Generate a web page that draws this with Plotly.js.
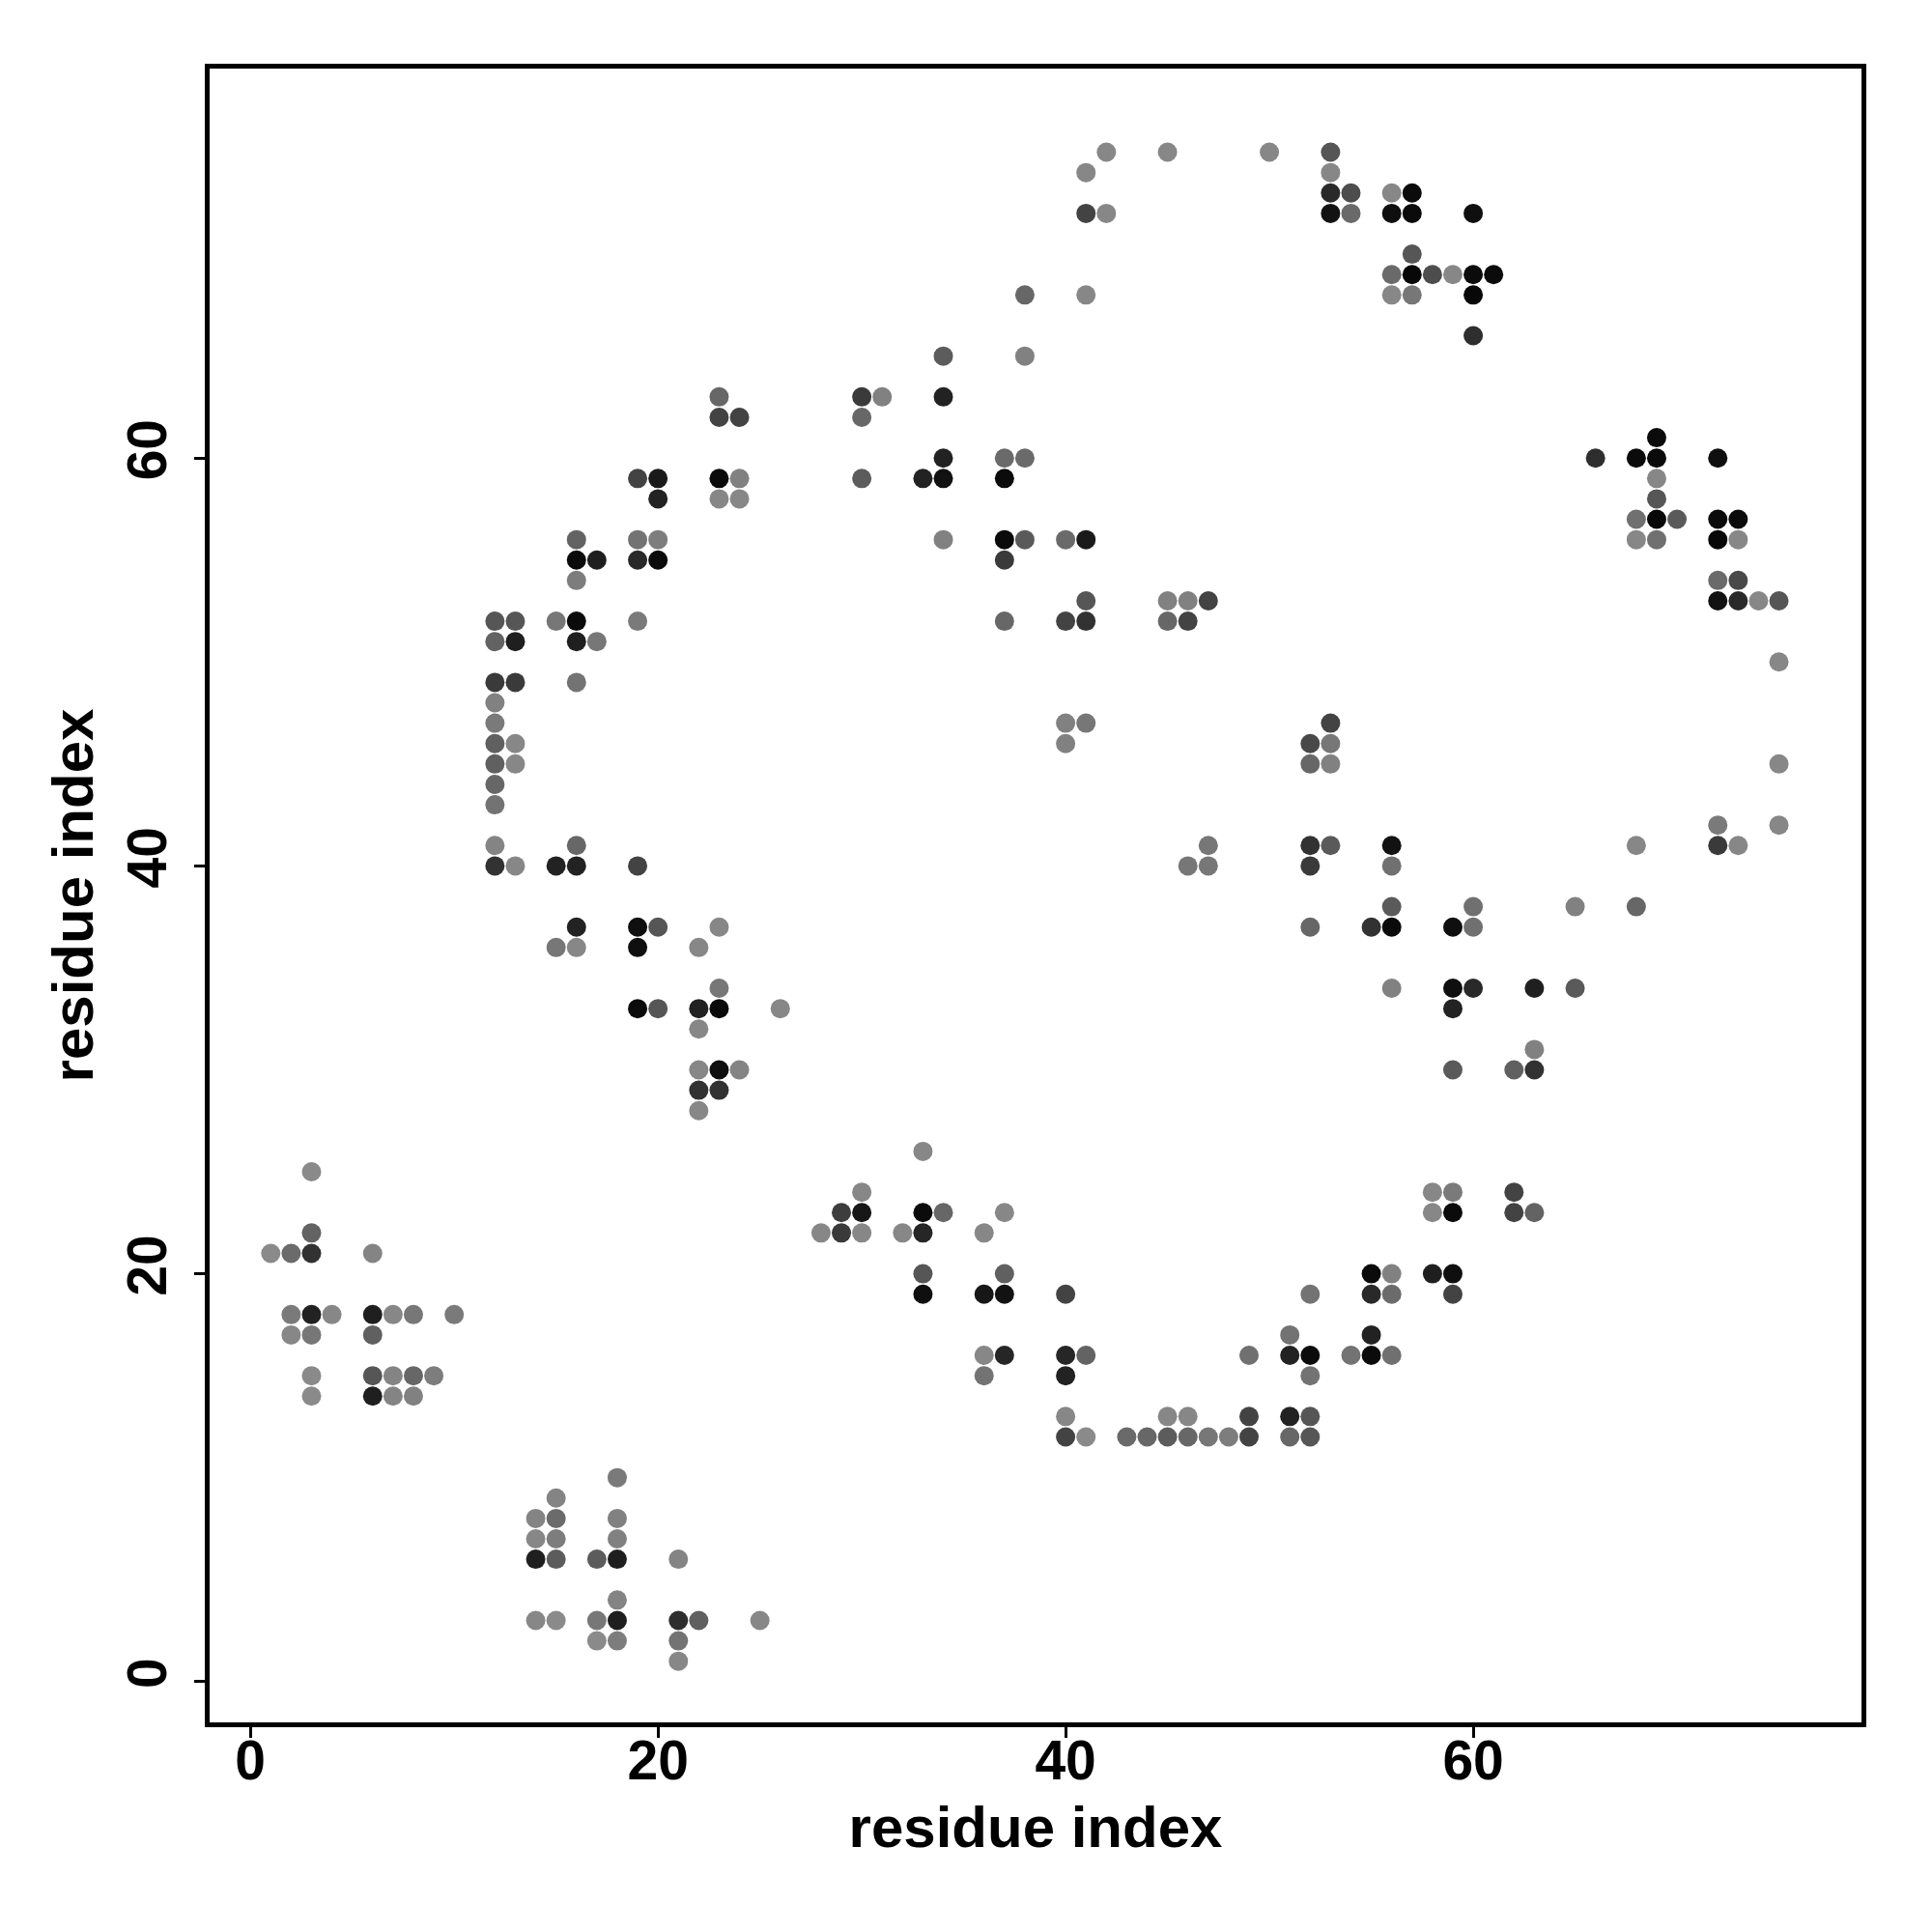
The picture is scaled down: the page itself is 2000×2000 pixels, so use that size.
<!DOCTYPE html>
<html>
<head>
<meta charset="utf-8">
<script src="https://cdn.plot.ly/plotly-3.0.1.min.js"></script>
<style>html,body{margin:0;padding:0;background:#fff;}#chart{width:2000px;height:2000px;}</style>
</head>
<body>
<div id="chart"></div>
<script>
// Contact map: each entry is [residue i, residue j, contact score (0 = weak, 1 = strong)]
const contactsNTerm = [
  [1,21,0.10],[2,21,0.30],[3,21,0.67],[3,22,0.35],[3,25,0.10],[6,21,0.14],
  [2,18,0.20],[3,18,0.78],[4,18,0.12],[6,18,0.80],[7,18,0.12],[8,18,0.22],[10,18,0.20],
  [2,17,0.12],[3,17,0.22],[6,17,0.37],
  [3,15,0.10],[6,15,0.44],[7,15,0.14],[8,15,0.33],[9,15,0.18],
  [3,14,0.10],[6,14,0.80],[7,14,0.14],[8,14,0.16]
];
const contactsHairpin = [
  [14,8,0.14],[15,8,0.30],[15,9,0.14],[18,10,0.20],[18,8,0.16],
  [14,7,0.12],[15,7,0.18],[18,7,0.16],
  [14,6,0.80],[15,6,0.40],[17,6,0.40],[18,6,0.80],
  [18,4,0.14],
  [14,3,0.12],[15,3,0.10],[17,3,0.22],[18,3,0.80],
  [17,2,0.10],[18,2,0.18],
  [21,6,0.14],[21,3,0.70],[22,3,0.37],[21,2,0.25],[21,1,0.12],[25,3,0.12]
];
const contactsLowerBand = [
  [30,24,0.12],[29,23,0.60],[30,23,0.85],[33,23,0.93],[34,23,0.33],[37,23,0.12],
  [28,22,0.12],[29,22,0.62],[30,22,0.12],[32,22,0.12],[33,22,0.75],[36,22,0.12],
  [33,26,0.12],[33,20,0.44],[37,20,0.37],
  [33,19,0.90],[36,19,0.85],[37,19,0.88],
  [36,16,0.12],[37,16,0.75],[36,15,0.25],
  [40,19,0.56],[40,16,0.75],[41,16,0.35],[40,15,0.78],
  [40,13,0.12],[40,12,0.56],[41,12,0.10],
  [43,12,0.31],[44,12,0.33],[45,12,0.40],[45,13,0.12],[46,13,0.12],[46,12,0.33],
  [47,12,0.22],[48,12,0.18],[49,13,0.56],[49,12,0.56],[51,13,0.78],[51,12,0.33],
  [52,13,0.44],[52,12,0.44],
  [49,16,0.27],[51,17,0.25],[51,16,0.78],[52,16,0.93],[52,15,0.25],[52,19,0.25],[54,16,0.25],
  [55,20,0.93],[56,20,0.16],[55,19,0.73],[56,19,0.30],[55,17,0.78],[55,16,0.93],[56,16,0.27],
  [58,24,0.12],[59,24,0.20],[58,23,0.12],[59,23,0.93],[58,20,0.80],[59,20,0.90],[59,19,0.56],
  [62,24,0.56],[62,23,0.56],[63,23,0.35]
];
const contactsLeftBand = [
  [12,52,0.44],[13,52,0.44],[15,52,0.22],[16,52,0.93],
  [12,51,0.35],[13,51,0.80],[16,51,0.80],[17,51,0.22],
  [12,49,0.62],[13,49,0.62],[16,49,0.25],
  [12,48,0.16],[12,47,0.20],[12,46,0.37],[13,46,0.12],[12,45,0.37],[13,45,0.12],
  [12,44,0.33],[12,43,0.25],
  [12,41,0.14],[16,41,0.33],[12,40,0.67],[13,40,0.12],[15,40,0.78],[16,40,0.78],
  [16,37,0.78],[15,36,0.22],[16,36,0.12],
  [16,56,0.35],[16,55,0.93],[17,55,0.80],[16,54,0.18],
  [19,59,0.56],[20,59,0.83],[20,58,0.78],[19,56,0.25],[20,56,0.18],[19,55,0.73],[20,55,0.93],[19,52,0.20],
  [19,40,0.56],[19,37,0.90],[20,37,0.44],[23,37,0.12],[19,36,0.90],[22,36,0.12],
  [23,34,0.22],[19,33,0.93],[20,33,0.44],[22,33,0.78],[23,33,0.93],[26,33,0.12],[22,32,0.12],
  [22,30,0.12],[23,30,0.90],[24,30,0.14],[22,29,0.67],[23,29,0.67],[22,28,0.12]
];
const contactsUpperBand = [
  [23,63,0.33],[23,62,0.56],[24,62,0.56],[23,59,0.93],[24,59,0.16],[23,58,0.12],[24,58,0.12],
  [30,63,0.62],[31,63,0.16],[30,62,0.33],[30,59,0.40],
  [34,65,0.40],[34,63,0.78],[34,60,0.78],[33,59,0.78],[34,59,0.88],[34,56,0.16],
  [38,68,0.33],[38,65,0.16],[37,60,0.31],[38,60,0.31],[37,59,0.93],[37,56,0.93],[38,56,0.41],
  [37,55,0.62],[37,52,0.33],
  [40,56,0.31],[41,56,0.83],[40,52,0.56],[41,52,0.67],[41,53,0.44],
  [40,47,0.16],[41,47,0.22],[40,46,0.16],
  [45,53,0.16],[46,53,0.16],[47,53,0.56],[45,52,0.33],[46,52,0.56],
  [46,40,0.22],[47,40,0.22],[47,41,0.22]
];
const contactsTop = [
  [41,74,0.12],[41,72,0.56],[42,72,0.12],[42,75,0.12],[45,75,0.12],[50,75,0.12],[41,68,0.12],
  [53,75,0.44],[53,74,0.12],[53,73,0.73],[54,73,0.50],[53,72,0.88],[54,72,0.31],
  [56,73,0.12],[57,73,0.93],[56,72,0.90],[57,72,0.93],
  [57,70,0.44],[56,69,0.31],[57,69,0.95],[58,69,0.50],[59,69,0.12],[56,68,0.12],[57,68,0.22],
  [60,72,0.90],[60,69,0.93],[61,69,0.93],[60,68,0.95],[60,66,0.70]
];
const contactsRightBand = [
  [53,47,0.56],[52,46,0.52],[53,46,0.22],[52,45,0.33],[53,45,0.16],
  [52,41,0.67],[53,41,0.41],[52,40,0.62],[56,41,0.88],[56,40,0.27],
  [56,38,0.41],[52,37,0.33],[55,37,0.67],[56,37,0.93],[59,37,0.90],[60,37,0.27],[60,38,0.27],
  [56,34,0.16],[59,34,0.90],[60,34,0.73],[59,33,0.78],[59,30,0.41],
  [63,34,0.80],[65,34,0.41],[65,38,0.16],[68,38,0.33],[63,31,0.16],[62,30,0.37],[63,30,0.67],
  [68,41,0.12],[72,42,0.20],[72,41,0.62],[73,41,0.12],[75,42,0.12],[75,45,0.12],[75,50,0.12]
];
const contactsCTerm = [
  [69,61,0.93],[66,60,0.70],[68,60,0.93],[69,60,0.93],[72,60,0.90],[69,59,0.12],[69,58,0.44],
  [68,57,0.27],[69,57,0.95],[70,57,0.41],[72,57,0.93],[73,57,0.93],
  [68,56,0.12],[69,56,0.27],[72,56,0.95],[73,56,0.12],
  [72,54,0.31],[73,54,0.52],[72,53,0.88],[73,53,0.73],[74,53,0.12],[75,53,0.44]
];
const tickValues = [0, 20, 40, 60];
const axisTitleX = "residue index";
const axisTitleY = "residue index";

const all = [].concat(contactsNTerm, contactsHairpin, contactsLowerBand, contactsLeftBand,
  contactsUpperBand, contactsTop, contactsRightBand, contactsCTerm);
const xs = all.map(d => d[0]);
const ys = all.map(d => d[1]);
const score = all.map(d => d[2]);

const fontFam = "Liberation Sans, Arial, Helvetica, sans-serif";
const trace = {
  type: "scatter", mode: "markers", x: xs, y: ys,
  marker: {
    size: 20, color: score, cmin: 0, cmax: 1,
    colorscale: [[0, "#999999"], [1, "#000000"]],
    showscale: false, line: {width: 0}
  },
  hoverinfo: "x+y"
};
const axisCommon = {
  tickvals: tickValues, ticks: "outside", ticklen: 11, tickwidth: 3, tickcolor: "#000",
  showline: true, mirror: true, linewidth: 5, linecolor: "#000",
  zeroline: false, showgrid: false,
  tickfont: {family: fontFam, size: 57, color: "#000", weight: "bold"}
};
const layout = {
  width: 2000, height: 2000,
  margin: {l: 217, r: 73, t: 71, b: 217},
  paper_bgcolor: "#fff", plot_bgcolor: "#fff",
  showlegend: false,
  xaxis: Object.assign({}, axisCommon, {
    range: [-2, 79.05], ticklabelstandoff: -25,
    title: {text: axisTitleX, font: {family: fontFam, size: 60, color: "#000", weight: "bold"}, standoff: 18}
  }),
  yaxis: Object.assign({}, axisCommon, {
    range: [-2, 79.1], tickangle: -90, ticklabelstandoff: 6,
    title: {text: axisTitleY, font: {family: fontFam, size: 60, color: "#000", weight: "bold"}, standoff: 6}
  })
};
Plotly.newPlot("chart", [trace], layout, {staticPlot: true, displayModeBar: false});
</script>
</body>
</html>
